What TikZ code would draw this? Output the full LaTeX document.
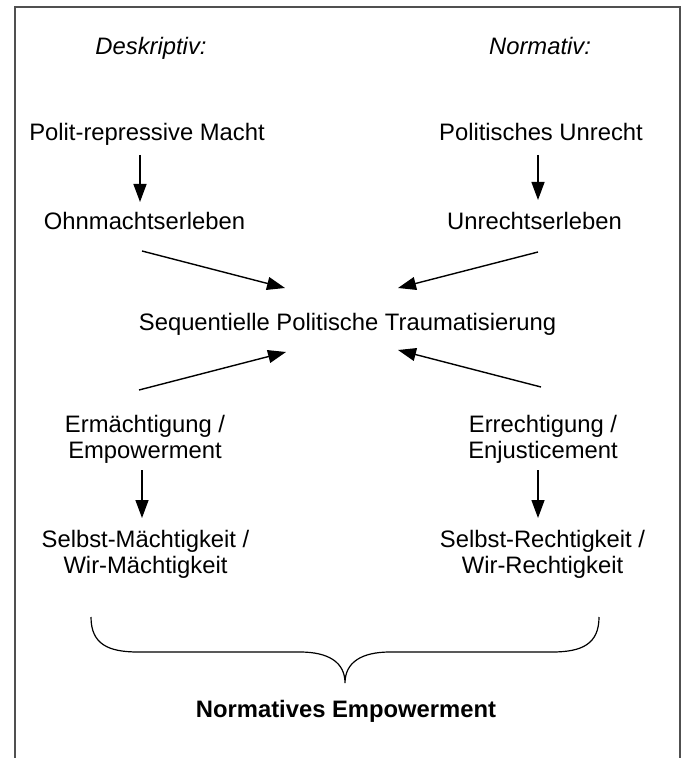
\documentclass[tikz,border=0pt]{standalone}
\usepackage{fontspec}
\setmainfont{Liberation Sans}
\usetikzlibrary{arrows.meta,calc}
\definecolor{framegray}{HTML}{505050}
\tikzset{
  lab/.style={inner sep=0pt, outer sep=0pt, align=center, anchor=base,
    font=\fontsize{11.9}{13}\selectfont},
  arr/.style={line width=0.7pt, -{Triangle[length=9pt,width=6.5pt]}},
  framestyle/.style={draw=framegray, line width=1pt},
  bracestyle/.style={line width=0.6pt}
}
\begin{document}
\begin{tikzpicture}[x=0.5pt,y=-0.5pt]
\useasboundingbox (0,0) rectangle (683,758);
\draw[framestyle] (14.5,758) -- (14.5,7.5) -- (679.5,7.5) -- (679.5,758);

\node[lab] (desk) at (151,55) {\itshape Deskriptiv:};
\node[lab] (norm) at (540,55) {\itshape Normativ:};
\node[lab] (macht) at (147,141) {Polit-repressive Macht};
\node[lab] (unrecht) at (541,141) {Politisches Unrecht};
\node[lab] (ohn) at (144.5,230) {Ohnmachtserleben};
\node[lab] (unerl) at (534.5,230) {Unrechtserleben};
\node[lab] (seq) at (347.5,330) {Sequentielle Politische Traumatisierung};
% multi-line nodes: base anchor is the baseline of the last line
\node[lab] (erm) at (145,458) {Ermächtigung /\\Empowerment};
\node[lab] (err) at (543,458) {Errechtigung /\\Enjusticement};
\node[lab] (selbstm) at (145.5,573) {Selbst-Mächtigkeit /\\Wir-Mächtigkeit};
\node[lab] (selbstr) at (542.5,573) {Selbst-Rechtigkeit /\\Wir-Rechtigkeit};
\node[lab] (ne) at (346,717) {\bfseries Normatives Empowerment};

% vertical arrows
\draw[arr] ($(macht.base)+(-7,14)$) -- ($(ohn.base)+(-4.5,-28)$);
\draw[arr] ($(unrecht.base)+(-3,14)$) -- ($(unerl.base)+(3.5,-30)$);
\draw[arr] ($(erm.base)+(-3,12)$) -- ($(selbstm.base)+(-3.5,-55)$);
\draw[arr] ($(err.base)+(-5,12)$) -- ($(selbstr.base)+(-4.5,-55)$);

% diagonal arrows
\draw[arr] ($(ohn.base)+(-2.5,21)$) -- ($(seq.base)+(-62.5,-42)$);
\draw[arr] ($(unerl.base)+(3.5,22)$) -- ($(seq.base)+(50.5,-42)$);
\draw[arr] ($(erm.base)+(-6,-68)$) -- ($(seq.base)+(-61.5,22)$);
\draw[arr] ($(err.base)+(-2,-71)$) -- ($(seq.base)+(50.5,20)$);

% brace
\draw[bracestyle] (91,617) .. controls (91,644) and (108,652) .. (138,652)
  -- (300,652) .. controls (328,652) and (345,662) .. (345,683)
  .. controls (345,662) and (362,652) .. (390,652)
  -- (552,652) .. controls (582,652) and (599,644) .. (599,617);
\end{tikzpicture}
\end{document}
